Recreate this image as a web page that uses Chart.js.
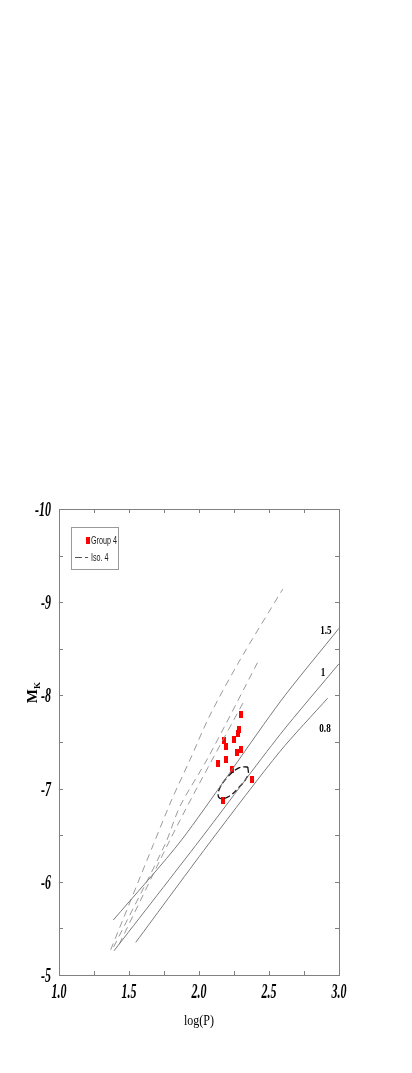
<!DOCTYPE html>
<html>
<head>
<meta charset="utf-8">
<script src="https://cdn.jsdelivr.net/npm/chart.js@4.4.1/dist/chart.umd.min.js"></script>
<style>
  html, body { margin: 0; padding: 0; background: #fff; }
  #wrap { width: 412px; height: 1073px; }
</style>
</head>
<body>
<div id="wrap"><canvas id="chart" width="412" height="1073"></canvas></div>
<script>
// axis tick labels
const xTickLabels = ["1.0", "1.5", "2.0", "2.5", "3.0"];
const yTickLabels = ["-10", "-9", "-8", "-7", "-6", "-5"];

// Group 4 stars (log P, M_K)
const groupLogP = [2.298, 2.286, 2.281, 2.176, 2.248, 2.193, 2.302, 2.271, 2.191, 2.136, 2.236, 2.381, 2.171];
const groupMk = [-7.79, -7.63, -7.59, -7.52, -7.53, -7.45, -7.42, -7.39, -7.31, -7.27, -7.21, -7.10, -6.87];

// solid lines, labelled 1.5, 1, 0.8
const trackNames = ["1.5", "1", "0.8"];
const trackLogP = [
    [1.388, 1.876, 2.579, 3.0],
    [1.393, 2.007, 2.579, 3.0],
    [1.548, 2.091, 2.579, 2.919]
];
const trackMk = [
    [-5.59, -6.45, -7.93, -8.72],
    [-5.26, -6.45, -7.58, -8.34],
    [-5.35, -6.45, -7.40, -7.97]
];
// where the line names sit (log P, M_K)
const trackLabelLogP = [2.907, 2.886, 2.90];
const trackLabelMk = [-8.71, -8.26, -7.66];

// dashed isochrones (Iso. 4)
const isoLogP = [
    [1.369, 1.674, 1.805, 1.936, 2.079, 2.293, 2.598],
    [1.39, 1.757, 1.864, 2.064, 2.421],
    [1.43, 1.864, 2.329]
];
const isoMk = [
    [-5.27, -6.40, -6.88, -7.31, -7.79, -8.38, -9.14],
    [-5.30, -6.40, -6.81, -7.33, -8.36],
    [-5.33, -6.66, -7.96]
];

// dashed ellipse round the cluster
const ellLogP = [2.349, 2.349, 2.281, 2.204, 2.144, 2.144, 2.205, 2.289, 2.349];
const ellMk = [-7.232, -7.143, -7.006, -6.908, -6.902, -6.991, -7.125, -7.225, -7.232];

const toPts = (xs, ys) => xs.map((x, i) => ({ x: x, y: ys[i] }));

// small upright red rectangle used as the star marker
const mark = document.createElement("canvas");
mark.width = 4;
mark.height = 7;
const mctx = mark.getContext("2d");
mctx.fillStyle = "#ff0000";
mctx.fillRect(0, 0, 4, 7);

const datasets = [];
trackLogP.forEach((xs, i) => {
    datasets.push({
        label: "Track " + trackNames[i],
        data: toPts(xs, trackMk[i]),
        showLine: true,
        borderColor: "#7a7a7a",
        borderWidth: 1,
        pointRadius: 0,
        tension: 0.25
    });
});
isoLogP.forEach((xs, i) => {
    datasets.push({
        label: "Iso. 4",
        data: toPts(xs, isoMk[i]),
        showLine: true,
        borderColor: "#9a9a9a",
        borderWidth: 1,
        borderDash: [7, 5],
        pointRadius: 0,
        tension: 0.3
    });
});
datasets.push({
    label: "ellipse",
    data: toPts(ellLogP, ellMk),
    showLine: true,
    borderColor: "#111",
    borderWidth: 1.3,
    borderDash: [6, 3],
    pointRadius: 0,
    tension: 0.4
});
datasets.push({
    label: "Group 4",
    data: toPts(groupLogP, groupMk),
    showLine: false,
    pointStyle: mark,
    pointRadius: 3
});

// squeezed text, the figure's fonts are narrow
function narrowText(ctx, text, x, y, sx, align) {
    ctx.save();
    ctx.translate(x, y);
    ctx.scale(sx, 1);
    ctx.textAlign = align;
    ctx.fillText(text, 0, 0);
    ctx.restore();
}

const framePlugin = {
    id: "frame",
    afterDraw(chart) {
        const ctx = chart.ctx;
        const a = chart.chartArea;
        const xs = chart.scales.x, ys = chart.scales.y;
        ctx.save();
        ctx.strokeStyle = "#808080";
        ctx.lineWidth = 1;
        ctx.strokeRect(a.left + 0.5, a.top + 0.5, a.right - a.left, a.bottom - a.top);

        // inward ticks on every side
        ctx.beginPath();
        xs.ticks.forEach(t => {
            const px = Math.round(xs.getPixelForValue(t.value)) + 0.5;
            ctx.moveTo(px, a.bottom); ctx.lineTo(px, a.bottom - 4);
            ctx.moveTo(px, a.top); ctx.lineTo(px, a.top + 4);
        });
        ys.ticks.forEach(t => {
            const py = Math.round(ys.getPixelForValue(t.value)) + 0.5;
            ctx.moveTo(a.left, py); ctx.lineTo(a.left + 4, py);
            ctx.moveTo(a.right, py); ctx.lineTo(a.right - 4, py);
        });
        ctx.stroke();

        // tick labels
        ctx.fillStyle = "#000";
        ctx.font = "italic bold 20px 'Liberation Serif', 'DejaVu Serif', serif";
        ctx.textBaseline = "alphabetic";
        xTickLabels.forEach(lab => {
            const px = xs.getPixelForValue(parseFloat(lab));
            narrowText(ctx, lab, px, a.bottom + 23, 0.6, "center");
        });
        yTickLabels.forEach(lab => {
            const py = ys.getPixelForValue(parseFloat(lab));
            narrowText(ctx, lab, a.left - 8, py + 7, 0.6, "right");
        });

        // axis titles
        ctx.font = "15px 'Liberation Serif', serif";
        narrowText(ctx, "log(P)", (a.left + a.right) / 2, 1025, 0.8, "center");

        ctx.save();
        ctx.translate(37, 693);
        ctx.rotate(-Math.PI / 2);
        ctx.font = "bold 15px 'Liberation Serif', serif";
        ctx.textAlign = "right";
        ctx.fillText("M", 4, 0);
        ctx.font = "bold 9px 'Liberation Serif', serif";
        ctx.textAlign = "left";
        ctx.fillText("K", 4, 3);
        ctx.restore();

        // line names
        ctx.font = "bold 13px 'Liberation Serif', serif";
        trackNames.forEach((name, i) => {
            const px = xs.getPixelForValue(trackLabelLogP[i]);
            const py = ys.getPixelForValue(trackLabelMk[i]);
            narrowText(ctx, name, px, py + 4.5, 0.7, "center");
        });

        // legend box
        const lx = 71, ly = 527, lw = 47, lh = 42;
        ctx.fillStyle = "#fff";
        ctx.fillRect(lx, ly, lw, lh);
        ctx.strokeStyle = "#999";
        ctx.strokeRect(lx + 0.5, ly + 0.5, lw, lh);
        ctx.drawImage(mark, 86, 537);
        ctx.strokeStyle = "#555";
        ctx.lineWidth = 1.2;
        ctx.beginPath();
        ctx.moveTo(75, 557.5); ctx.lineTo(82, 557.5);
        ctx.moveTo(85, 557.5); ctx.lineTo(88, 557.5);
        ctx.stroke();
        ctx.fillStyle = "#222";
        ctx.font = "10px 'Liberation Sans', Arial, sans-serif";
        narrowText(ctx, "Group 4", 91, 544, 0.72, "left");
        narrowText(ctx, "Iso. 4", 91, 561, 0.72, "left");
        ctx.restore();
    }
};

new Chart(document.getElementById("chart"), {
    type: "scatter",
    data: { datasets: datasets },
    options: {
        responsive: false,
        animation: false,
        layout: { padding: { left: 59, top: 509, right: 73, bottom: 98 } },
        plugins: {
            legend: { display: false },
            tooltip: { enabled: false }
        },
        scales: {
            x: {
                type: "linear",
                display: false,
                min: 1,
                max: 3,
                ticks: { stepSize: 0.25 }
            },
            y: {
                type: "linear",
                display: false,
                reverse: true,
                min: -10,
                max: -5,
                ticks: { stepSize: 0.5 }
            }
        }
    },
    plugins: [framePlugin]
});
</script>
</body>
</html>
